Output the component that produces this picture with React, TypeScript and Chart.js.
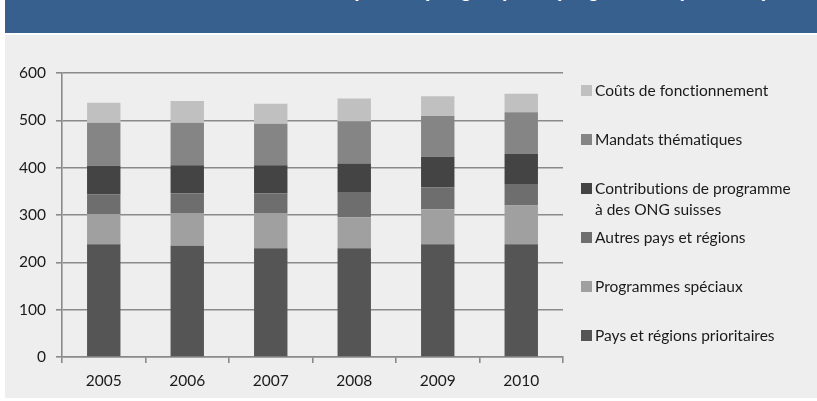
import React, { useEffect, useRef } from "react";
import { Chart, registerables } from "chart.js";

Chart.register(...registerables);

const years = ["2005", "2006", "2007", "2008", "2009", "2010"];
const paysPrioritaires = [238, 235, 230, 230, 238, 238];
const programmesSpeciaux = [64, 69, 74, 65, 74, 82];
const autresPays = [42, 42, 42, 52, 46, 44];
const contributionsONG = [60, 59, 59, 62, 65, 65];
const mandatsThematiques = [91, 90, 88, 89, 86, 88];
const coutsFonctionnement = [42, 46, 42, 48, 42, 39];
const yTicks = [0, 100, 200, 300, 400, 500, 600];

const seriesNames = [
  ["Pays et régions prioritaires"],
  ["Programmes spéciaux"],
  ["Autres pays et régions"],
  ["Contributions de programme", "à des ONG suisses"],
  ["Mandats thématiques"],
  ["Coûts de fonctionnement"],
];
const seriesValues = [
  paysPrioritaires,
  programmesSpeciaux,
  autresPays,
  contributionsONG,
  mandatsThematiques,
  coutsFonctionnement,
];
const seriesColors = ["#555555", "#a0a0a0", "#6e6e6e", "#444444", "#858585", "#c0c0c0"];

const titleText = "Dépenses par groupe de programmes (mio CHF)";

const FONT = "Lato, 'Open Sans', sans-serif";

// legend vertical centres (layout only), top to bottom
const legendCenters = [90, 139, 188, 237, 286, 335];

export default function App() {
  const canvasRef = useRef<HTMLCanvasElement | null>(null);

  useEffect(() => {
    const canvas = canvasRef.current;
    if (!canvas) return;
    const gridColor = "#8a8a8a";
    const chart = new Chart(canvas, {
      type: "bar",
      data: {
        labels: years,
        datasets: seriesValues.map((vals, i) => ({
          label: seriesNames[i].join(" "),
          data: vals,
          backgroundColor: seriesColors[i],
          borderWidth: 0,
          barPercentage: 0.4,
          categoryPercentage: 1,
          stack: "s",
        })),
      },
      options: {
        responsive: false,
        animation: false,
        layout: { padding: { top: 73, right: 254, left: 0, bottom: 0 } },
        plugins: {
          legend: { display: false },
          tooltip: { enabled: false },
          title: { display: false },
        },
        scales: {
          x: {
            stacked: true,
            offset: true,
            afterFit: (s: any) => {
              s.height = 44;
            },
            grid: {
              display: true,
              drawOnChartArea: false,
              drawTicks: true,
              tickLength: 6,
              offset: true,
              color: gridColor,
              lineWidth: 1.6,
            },
            border: { display: true, color: gridColor, width: 1.6 },
            ticks: {
              color: "#1a1a1a",
              font: { family: FONT, size: 15.5 },
              padding: 9,
            },
          },
          y: {
            stacked: true,
            min: 0,
            max: 600,
            afterFit: (s: any) => {
              s.width = 62;
            },
            afterBuildTicks: (s: any) => {
              s.ticks = yTicks.map((v) => ({ value: v }));
            },
            grid: {
              display: true,
              drawTicks: true,
              tickLength: 6,
              color: gridColor,
              lineWidth: 1.6,
            },
            border: { display: true, color: gridColor, width: 1.6 },
            ticks: {
              color: "#1a1a1a",
              font: { family: FONT, size: 15.5 },
              padding: 10,
            },
          },
        },
      },
    });
    return () => {
      chart.destroy();
    };
  }, []);

  const legendOrder = [5, 4, 3, 2, 1, 0];

  return (
    <div
      style={{
        position: "absolute",
        left: 0,
        top: 0,
        width: 817,
        height: 401,
        background: "#ffffff",
        overflow: "hidden",
        fontFamily: FONT,
        fontVariantLigatures: "none",
      }}
    >
      <div
        style={{
          position: "absolute",
          left: 5,
          top: 0,
          width: 812,
          height: 33,
          background: "#37608f",
          overflow: "hidden",
        }}
      >
        <div
          style={{
            position: "absolute",
            left: 325,
            top: -19,
            whiteSpace: "nowrap",
            color: "#ffffff",
            fontFamily: "'Liberation Sans', Arial, sans-serif",
            fontWeight: "bold",
            fontSize: 19,
            lineHeight: "20px",
          }}
        >
          {titleText}
        </div>
      </div>
      <div
        style={{
          position: "absolute",
          left: 5,
          top: 35,
          width: 812,
          height: 363,
          background: "#eeeeee",
        }}
      />
      <canvas
        ref={canvasRef}
        width={817}
        height={401}
        style={{ position: "absolute", left: 0, top: 0, width: 817, height: 401 }}
      />
      {legendOrder.map((si, k) => {
        const c = legendCenters[k];
        return (
          <div key={si}>
            <div
              style={{
                position: "absolute",
                left: 581,
                top: c - 5.5,
                width: 11,
                height: 11,
                background: seriesColors[si],
              }}
            />
            <div
              style={{
                position: "absolute",
                left: 595,
                top: c - 10.5,
                fontSize: 15.5,
                lineHeight: "21px",
                color: "#1a1a1a",
                whiteSpace: "nowrap",
              }}
            >
              {seriesNames[si].map((line, j) => (
                <div key={j}>{line}</div>
              ))}
            </div>
          </div>
        );
      })}
    </div>
  );
}
